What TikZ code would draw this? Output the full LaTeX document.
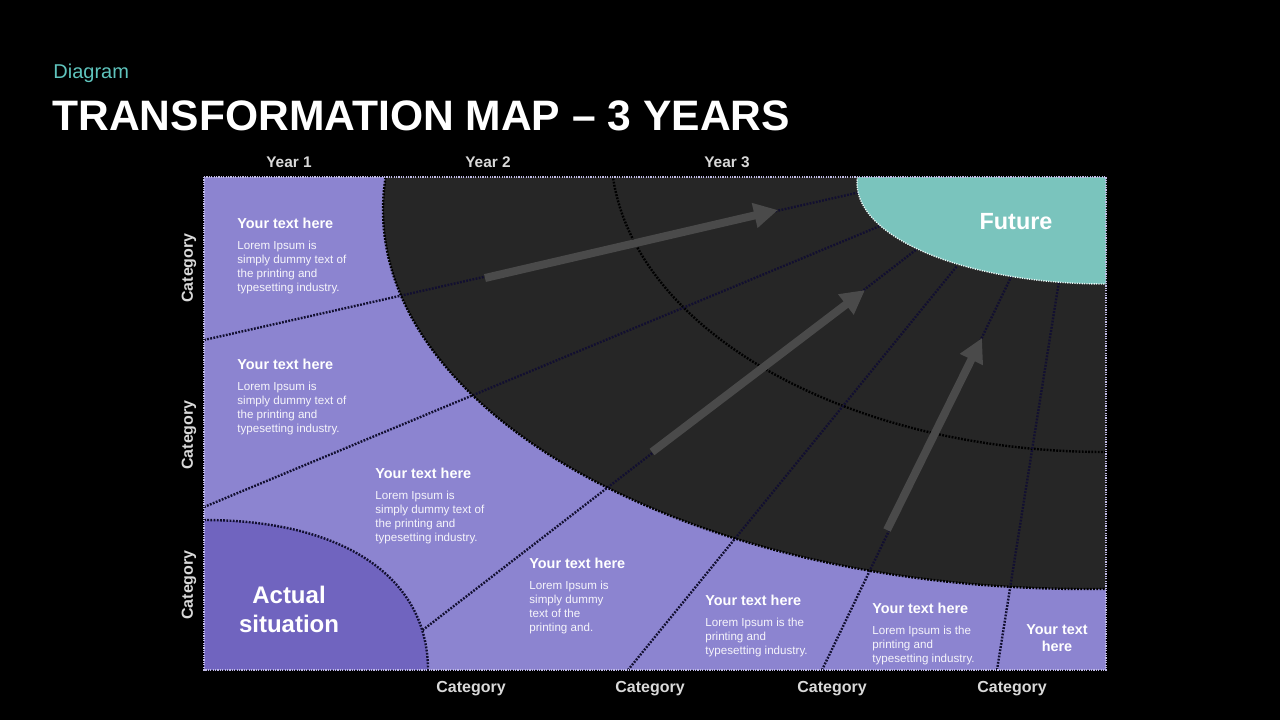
\documentclass[tikz,border=0pt]{standalone}
\usepackage{fontspec}
\setmainfont{Liberation Sans}
\usetikzlibrary{arrows.meta}
\definecolor{lav}{HTML}{8C84D0}
\definecolor{lavdark}{HTML}{7064BF}
\definecolor{darkarea}{HTML}{262626}
\definecolor{tealf}{HTML}{7AC4BD}
\definecolor{dotc}{HTML}{120F30}
\definecolor{arrowc}{HTML}{4A4A4A}
\definecolor{labelc}{HTML}{D9D9D9}
\definecolor{diagc}{HTML}{5FC4BD}
\newcommand\tmblock[5]{%
  \node[hdrtxt, anchor=base west] (#1h) at (#2,#3) {#4};
  \foreach \ln [count=\ii] in {#5}
    \node[bodytxt, anchor=base west] (#1l\ii) at (#2,#3+6.8+\ii*14.2) {\ln};
}
\begin{document}
\begin{tikzpicture}[x=0.5pt,y=-0.5pt,
  hdrtxt/.style={font=\fontsize{7.2}{8.6}\selectfont\bfseries, text=white, inner sep=0pt},
  bodytxt/.style={font=\fontsize{5.8}{7}\selectfont, text=white!92!lav, inner sep=0pt},
  cattxt/.style={font=\fontsize{8}{9.6}\selectfont\bfseries, text=labelc, inner sep=0pt},
  yeartxt/.style={font=\fontsize{7.7}{9.2}\selectfont\bfseries, text=labelc, inner sep=0pt},
  bigtxt/.style={font=\fontsize{12}{14}\selectfont\bfseries, text=white, inner sep=0pt},
  dotline/.style={draw=dotc, line width=1.2pt, dash pattern=on 0.9pt off 0.7pt},
  bigarrow/.style={draw=arrowc, line width=4pt, -{Triangle[length=12pt,width=12pt]}},
]
\useasboundingbox (0,0) rectangle (1280,720);
\fill[black] (0,0) rectangle (1280,720);
\fill[lav] (204,177) rectangle (1106,670);
\begin{scope}
  \clip (204,177) rectangle (1106,670);
  \fill[darkarea] (1086,210) ellipse [x radius=351.5pt, y radius=189.5pt];
  \draw[dotline, draw=black] (1106,150) ellipse [x radius=247.5pt, y radius=151pt];
  % radial lines
  \coordinate (r1a) at (204,340); \coordinate (r1b) at (865,191);
  \coordinate (r2a) at (204,507); \coordinate (r2b) at (887,223);
  \coordinate (r3a) at (415,636); \coordinate (r3b) at (917,249);
  \coordinate (r4a) at (628,670); \coordinate (r4b) at (957,266);
  \coordinate (r5a) at (822,670); \coordinate (r5b) at (1011,277);
  \coordinate (r6a) at (997,670); \coordinate (r6b) at (1059,281);
  \draw[dotline] (r1a) -- (r1b);
  \draw[dotline] (r2a) -- (r2b);
  \draw[dotline] (r3a) -- (r3b);
  \draw[dotline] (r4a) -- (r4b);
  \draw[dotline] (r5a) -- (r5b);
  \draw[dotline] (r6a) -- (r6b);
  \draw[dotline, draw=black] (1086,210) ellipse [x radius=351.5pt, y radius=189.5pt];
  \fill[tealf] (1106,183) ellipse [x radius=124.5pt, y radius=50.5pt];
  \draw[white!85!tealf, line width=0.7pt, dash pattern=on 0.6pt off 0.6pt] (1106,183) ellipse [x radius=124.5pt, y radius=50.5pt];
  % actual situation
  \fill[lavdark] (204,520) .. controls (343,520) and (428,577) .. (428,670) -- (204,670) -- cycle;
  \draw[dotline] (204,520) .. controls (343,520) and (428,577) .. (428,670);
\end{scope}
\draw[lav!55!white, line width=0.6pt, dash pattern=on 0.6pt off 0.6pt] (204,177) rectangle (1106,670);
% arrows
\coordinate (a1s) at (485,278); \coordinate (a1e) at (778,210);
\coordinate (a2s) at (652,452); \coordinate (a2e) at (865,290);
\coordinate (a3s) at (887,530); \coordinate (a3e) at (982,338);
\draw[bigarrow] (a1s) -- (a1e);
\draw[bigarrow] (a2s) -- (a2e);
\draw[bigarrow] (a3s) -- (a3e);
% titles
\node[anchor=base west, inner sep=0pt, font=\fontsize{10}{12}\selectfont, text=diagc] (sub) at (53,78) {Diagram};
\node[anchor=base west, inner sep=0pt, font=\fontsize{21.3}{25}\selectfont\bfseries, text=white] (title) at (52,130) {TRANSFORMATION MAP – 3 YEARS};
\node[yeartxt, anchor=base] (y1) at (289,167) {Year 1};
\node[yeartxt, anchor=base] (y2) at (488,167) {Year 2};
\node[yeartxt, anchor=base] (y3) at (727,167) {Year 3};
% categories
\node[cattxt, rotate=90] (cl1) at (189,268) {Category};
\node[cattxt, rotate=90] (cl2) at (189,435) {Category};
\node[cattxt, rotate=90] (cl3) at (189,585) {Category};
\node[cattxt, anchor=base] (cb1) at (471,692) {Category};
\node[cattxt, anchor=base] (cb2) at (650,692) {Category};
\node[cattxt, anchor=base] (cb3) at (832,692) {Category};
\node[cattxt, anchor=base] (cb4) at (1012,692) {Category};
% big labels
\node[bigtxt, anchor=base] (act1) at (289,603) {Actual};
\node[bigtxt, anchor=base] (act2) at (289,632) {situation};
\node[font=\fontsize{11.7}{14}\selectfont\bfseries, text=white, inner sep=0pt, anchor=base] (fut) at (1016,229) {Future};
% text blocks
\tmblock{ta}{237}{228}{Your text here}{Lorem Ipsum is,simply dummy text  of,the printing and,typesetting industry.}
\tmblock{tb}{237}{369}{Your text here}{Lorem Ipsum is,simply dummy text  of,the printing and,typesetting industry.}
\tmblock{tc}{375}{478}{Your text here}{Lorem Ipsum is,simply dummy text of,the printing and,typesetting industry.}
\tmblock{td}{529}{568}{Your text here}{Lorem Ipsum is,simply dummy,text  of the,printing and.}
\tmblock{te}{705}{605}{Your text here}{Lorem Ipsum is the,printing and,typesetting industry.}
\tmblock{tf}{872}{613}{Your text here}{Lorem Ipsum is the,printing and,typesetting industry.}
\node[hdrtxt, anchor=base] (tg1) at (1057,634) {Your text};
\node[hdrtxt, anchor=base] (tg2) at (1057,651) {here};
\end{tikzpicture}
\end{document}
